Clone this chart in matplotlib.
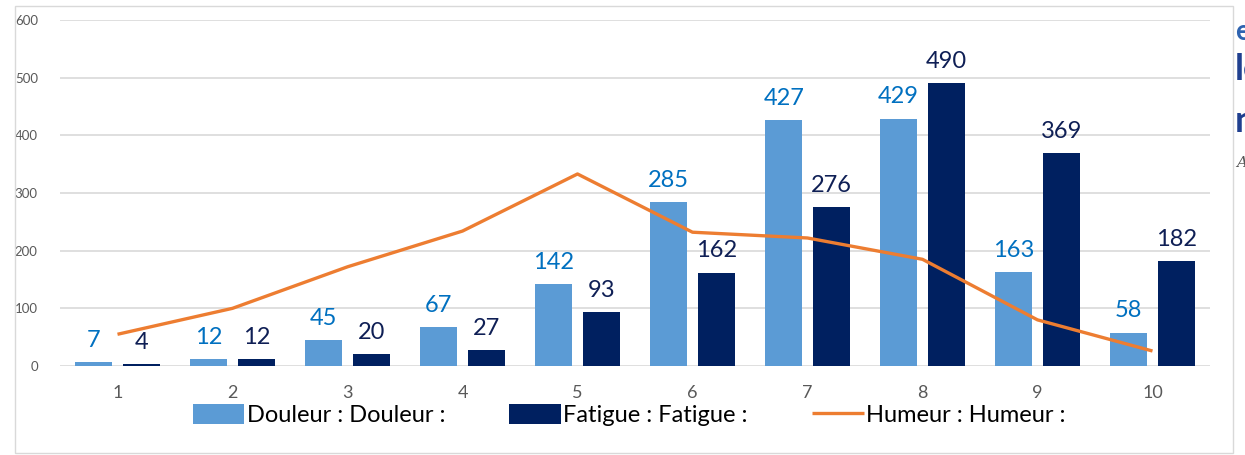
import matplotlib
matplotlib.use("Agg")
import matplotlib.pyplot as plt
import numpy as np
from matplotlib.patches import Rectangle

# ============================================================
# Données
# ============================================================
categories = ["1", "2", "3", "4", "5", "6", "7", "8", "9", "10"]
douleur = [7, 12, 45, 67, 142, 285, 427, 429, 163, 58]
fatigue = [4, 12, 20, 27, 93, 162, 276, 490, 369, 182]
humeur = [55, 100, 172, 234, 333, 232, 222, 185, 80, 26]

legend_labels = ["Douleur : Douleur :", "Fatigue : Fatigue :", "Humeur : Humeur :"]

C_DOUL = "#5B9BD5"
C_FAT = "#002060"
C_HUM = "#ED7D31"
C_DOUL_TXT = "#0070C0"
C_FAT_TXT = "#0F1F55"

plt.rcParams["font.family"] = ["Lato", "DejaVu Sans"]

fig = plt.figure(figsize=(12.45, 4.55), dpi=100)
ax = fig.add_axes([60 / 1245, 1 - 366 / 455, 1150 / 1245, 346 / 455])

x = np.arange(1, len(categories) + 1)
w = 0.325
off = 0.207

b1 = ax.bar(x - off, douleur, w, color=C_DOUL, label=legend_labels[0], zorder=2)
b2 = ax.bar(x + off, fatigue, w, color=C_FAT, label=legend_labels[1], zorder=2)
ln, = ax.plot(x, humeur, color=C_HUM, lw=2.4, label=legend_labels[2], zorder=3,
              solid_capstyle="butt")

for xi, v in zip(x - off, douleur):
    ax.annotate(str(v), (xi, v), xytext=(0, 8), textcoords="offset points",
                ha="center", va="bottom", fontsize=17, color=C_DOUL_TXT)
for xi, v in zip(x + off, fatigue):
    ax.annotate(str(v), (xi, v), xytext=(0, 8), textcoords="offset points",
                ha="center", va="bottom", fontsize=17, color=C_FAT_TXT)

ax.set_xlim(0.5, 10.5)
ax.set_ylim(0, 600)
ax.set_yticks(range(0, 601, 100))
ax.set_xticks(x)
ax.set_xticklabels(categories, fontsize=13, color="#595959")
ax.tick_params(axis="y", labelsize=9.5, colors="#595959", length=0, pad=16)
ax.tick_params(axis="x", length=0, pad=14)
ax.grid(axis="y", color="#d9d9d9", lw=1.2, zorder=0)
ax.set_axisbelow(True)
for s in ax.spines.values():
    s.set_visible(False)

leg = fig.legend(handles=[b1, b2, ln], labels=legend_labels,
                 loc="center", bbox_to_anchor=(629 / 1245, 1 - 415 / 455),
                 ncol=3, frameon=False, handlelength=2.2,
                 handleheight=0.9, handletextpad=0.1, columnspacing=2.7,
                 prop={"family": ["Lato", "DejaVu Sans"], "size": 17})

# cadre du graphique
fig.patches.append(Rectangle((15 / 1245, 1 - 453 / 455), 1218 / 1245, 447 / 455,
                             transform=fig.transFigure, fill=False,
                             edgecolor="#d9d9d9", lw=1))

# fragments de texte coupés au bord droit
fig.text(1235 / 1245, 1 - 32 / 455, "e", color="#2E63B0", fontsize=20,
         fontweight="bold", va="center", ha="left")
fig.text(1235 / 1245, 1 - 70 / 455, "le", color="#1F3F8F", fontsize=26,
         fontweight="bold", va="center", ha="left")
fig.text(1235 / 1245, 1 - 122 / 455, "n", color="#1F3F8F", fontsize=26,
         fontweight="bold", va="center", ha="left")
fig.text(1236 / 1245, 1 - 163 / 455, "A", color="#555555", fontsize=11,
         style="italic", va="center", ha="left", family="DejaVu Serif")

fig.savefig("out.png", dpi=100)
